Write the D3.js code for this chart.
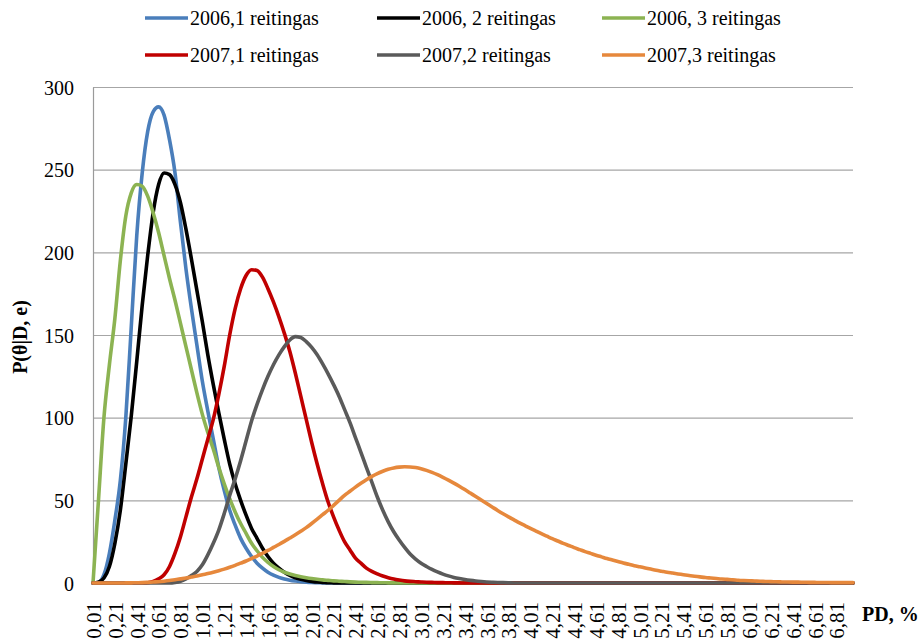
<!DOCTYPE html>
<html>
<head>
<meta charset="utf-8">
<script src="https://cdn.jsdelivr.net/npm/d3@7"></script>
<style>
  html, body { margin: 0; padding: 0; background: #fff; }
  svg { display: block; }
  text { font-family: "Liberation Serif", "Times New Roman", serif; fill: #000; }
</style>
</head>
<body>
<svg id="chart" width="924" height="640"></svg>
<script>
// ---------- DATA ----------
const pd = [
  0.01,0.06,0.11,0.16,0.21,0.26,0.31,0.36,0.41,0.46,
  0.51,0.56,0.61,0.66,0.71,0.76,0.81,0.86,0.91,0.96,
  1.01,1.06,1.11,1.16,1.21,1.26,1.31,1.36,1.41,1.46,
  1.51,1.56,1.61,1.66,1.71,1.76,1.81,1.86,1.91,1.96,
  2.01,2.06,2.11,2.16,2.21,2.26,2.31,2.36,2.41,2.46,
  2.51,2.56,2.61,2.66,2.71,2.76,2.81,2.86,2.91,2.96,
  3.01,3.06,3.11,3.16,3.21,3.26,3.31,3.36,3.41,3.46,
  3.51,3.56,3.61,3.66,3.71,3.76,3.81,3.86,3.91,3.96,
  4.01,4.06,4.11,4.16,4.21,4.26,4.31,4.36,4.41,4.46,
  4.51,4.56,4.61,4.66,4.71,4.76,4.81,4.86,4.91,4.96,
  5.01,5.06,5.11,5.16,5.21,5.26,5.31,5.36,5.41,5.46,
  5.51,5.56,5.61,5.66,5.71,5.76,5.81,5.86,5.91,5.96,
  6.01,6.06,6.11,6.16,6.21,6.26,6.31,6.36,6.41,6.46,
  6.51,6.56,6.61,6.66,6.71,6.76,6.81,6.86,6.91,6.96
];

const xTickLabels = ["0,01","0,21","0,41","0,61","0,81","1,01","1,21","1,41","1,61","1,81",
  "2,01","2,21","2,41","2,61","2,81","3,01","3,21","3,41","3,61","3,81",
  "4,01","4,21","4,41","4,61","4,81","5,01","5,21","5,41","5,61","5,81",
  "6,01","6,21","6,41","6,61","6,81"];
const yTicks = [0, 50, 100, 150, 200, 250, 300];

const seriesNames = ["2006,1 reitingas","2006, 2 reitingas","2006, 3 reitingas",
                     "2007,1 reitingas","2007,2 reitingas","2007,3 reitingas"];

const s2006_1 = [
  0,0.5,5,18,38,62,100,155,210,248,
  273,285,288,283,268,248,218,190,166,144,
  122,104,87,70,56,44,35,27,21,16,
  12,9,6.5,4.7,3.4,2.4,1.7,1.2,0.8,0.5,
  0.3,0.2,0.1,0,0,0,0,0,0,0,
  0,0,0,0,0,0,0,0,0,0,
  0,0,0,0,0,0,0,0,0,0,
  0,0,0,0,0,0,0,0,0,0,
  0,0,0,0,0,0,0,0,0,0,
  0,0,0,0,0,0,0,0,0,0,
  0,0,0,0,0,0,0,0,0,0,
  0,0,0,0,0,0,0,0,0,0,
  0,0,0,0,0,0,0,0,0,0,
  0,0,0,0,0,0,0,0,0,0
];
const s2006_2 = [
  0,0.5,3,10,24,44,72,101,134,168,
  198,224,241,248,247,241,230,214,196,177,
  158,138,120,103,87,72,60,50,41,33,
  27,21,16,12,9,6.5,4.6,3.2,2.2,1.5,
  1,0.6,0.4,0.2,0.1,0,0,0,0,0,
  0,0,0,0,0,0,0,0,0,0,
  0,0,0,0,0,0,0,0,0,0,
  0,0,0,0,0,0,0,0,0,0,
  0,0,0,0,0,0,0,0,0,0,
  0,0,0,0,0,0,0,0,0,0,
  0,0,0,0,0,0,0,0,0,0,
  0,0,0,0,0,0,0,0,0,0,
  0,0,0,0,0,0,0,0,0,0,
  0,0,0,0,0,0,0,0,0,0
];
const s2006_3 = [
  0,50,100,132,160,195,222,236,241,240,
  234,224,212,198,184,171,157,143,129,115,
  102,91,81,70,60,51,43,36,30,24,
  19.5,15.5,12.5,10,8,6.5,5.4,4.5,3.8,3.2,
  2.7,2.3,1.9,1.6,1.3,1.1,0.9,0.7,0.55,0.45,
  0.35,0.25,0.2,0.15,0.1,0.05,0,0,0,0,
  0,0,0,0,0,0,0,0,0,0,
  0,0,0,0,0,0,0,0,0,0,
  0,0,0,0,0,0,0,0,0,0,
  0,0,0,0,0,0,0,0,0,0,
  0,0,0,0,0,0,0,0,0,0,
  0,0,0,0,0,0,0,0,0,0,
  0,0,0,0,0,0,0,0,0,0,
  0,0,0,0,0,0,0,0,0,0
];
const s2007_1 = [
  0,0,0,0,0,0,0,0,0,0,
  0.2,1,2.5,5,10,18,28,40,52,63,
  75,87,99,114,131,150,166,178,186,189.5,
  189,185,178,170,161,151,140,127,113,99,
  85,72,60,49,40,32,25,20,15,12,
  9,7,5.5,4.2,3.2,2.4,1.8,1.3,1,0.8,
  0.6,0.45,0.35,0.25,0.2,0.15,0.1,0.05,0,0,
  0,0,0,0,0,0,0,0,0,0,
  0,0,0,0,0,0,0,0,0,0,
  0,0,0,0,0,0,0,0,0,0,
  0,0,0,0,0,0,0,0,0,0,
  0,0,0,0,0,0,0,0,0,0,
  0,0,0,0,0,0,0,0,0,0,
  0,0,0,0,0,0,0,0,0,0
];
const s2007_2 = [
  0,0,0,0,0,0,0,0,0,0,
  0,0,0,0,0,0.3,1,2.5,4.5,7,
  11,17,24,32,42,53,63,74,86,98,
  108,117,125,132,138,143,147,149,148.5,146,
  142.5,138,132.5,126.5,120,113,105,97,88,79,
  70,61,52,44,37,31,26,21.5,17.5,14.5,
  12,10,8.2,6.7,5.4,4.3,3.4,2.7,2.1,1.6,
  1.2,0.9,0.65,0.45,0.3,0.2,0.1,0,0,0,
  0,0,0,0,0,0,0,0,0,0,
  0,0,0,0,0,0,0,0,0,0,
  0,0,0,0,0,0,0,0,0,0,
  0,0,0,0,0,0,0,0,0,0,
  0,0,0,0,0,0,0,0,0,0,
  0,0,0,0,0,0,0,0,0,0
];
const s2007_3 = [
  0,0,0,0,0,0,0.05,0.1,0.15,0.25,
  0.4,0.6,0.8,1.1,1.5,2,2.5,3,3.6,4.2,
  5,5.7,6.5,7.4,8.4,9.5,10.7,12,13.3,14.8,
  16.3,18,19.7,21.5,23.3,25.2,27.2,29.2,31.3,33.5,
  36,38.6,41.3,44,47,50,53,55.5,58,60.3,
  62.5,64.5,66.2,67.6,68.8,69.6,70.1,70.3,70.2,69.8,
  69.1,68.1,66.9,65.5,63.9,62.2,60.4,58.5,56.5,54.4,
  52.3,50.2,48.1,46,43.9,41.9,40,38.2,36.4,34.7,
  33,31.4,29.8,28.3,26.8,25.4,24,22.7,21.4,20.2,
  19,17.9,16.8,15.8,14.8,13.9,13,12.1,11.3,10.5,
  9.8,9.1,8.4,7.7,7.1,6.5,6,5.5,5,4.5,
  4.1,3.7,3.3,3,2.7,2.4,2.2,2,1.7,1.5,
  1.35,1.2,1.05,0.95,0.85,0.75,0.65,0.6,0.55,0.5,
  0.45,0.4,0.35,0.3,0.3,0.25,0.25,0.2,0.2,0.2
];

const seriesValues = [s2006_1, s2006_2, s2006_3, s2007_1, s2007_2, s2007_3];
const seriesColors = ["#4a7ebb", "#000000", "#8cb352", "#c00000", "#5a5a5a", "#e6883c"];

// ---------- LAYOUT ----------
const svg = d3.select("#chart");
const plot = { left: 93, right: 853, top: 87, bottom: 583 };

const x = d3.scaleLinear().domain([pd[0], pd[pd.length - 1]]).range([plot.left, plot.right]);
const y = d3.scaleLinear().domain([0, 300]).range([plot.bottom, plot.top]);

// gridlines
svg.append("g")
  .selectAll("line")
  .data(yTicks.filter(d => d > 0))
  .join("line")
  .attr("x1", plot.left).attr("x2", plot.right)
  .attr("y1", d => y(d) + 0.5).attr("y2", d => y(d) + 0.5)
  .attr("stroke", "#a6a6a6").attr("stroke-width", 1.2);

// y axis
const yAxis = d3.axisLeft(y).tickValues(yTicks).tickSize(0).tickPadding(19).tickFormat(d3.format("d"));
const gy = svg.append("g").attr("transform", `translate(${plot.left},0)`).call(yAxis);
gy.select(".domain").attr("stroke", "#9a9a9a").attr("stroke-width", 1.2);
gy.selectAll("text").attr("font-size", 20).attr("font-family", "Liberation Serif").attr("dy", "0.35em");

// x axis
const xTickVals = xTickLabels.map(s => +s.replace(",", "."));
const xAxis = d3.axisBottom(x).tickValues(xTickVals).tickSize(0)
  .tickFormat((d, i) => xTickLabels[i]);
const gx = svg.append("g").attr("transform", `translate(0,${plot.bottom})`).call(xAxis);
gx.select(".domain").attr("stroke", "#9a9a9a").attr("stroke-width", 1.2);
gx.selectAll("text")
  .attr("font-size", 21).attr("font-family", "Liberation Serif")
  .attr("text-anchor", "end")
  .attr("transform", "rotate(-90)")
  .attr("x", -19).attr("y", 0).attr("dy", "0.35em");

// lines
const line = d3.line()
  .x((d, i) => x(pd[i]))
  .y(d => y(d))
  .curve(d3.curveMonotoneX);

svg.append("g")
  .selectAll("path")
  .data(seriesValues)
  .join("path")
  .attr("d", d => line(d))
  .attr("fill", "none")
  .attr("stroke", (d, i) => seriesColors[i])
  .attr("stroke-width", 3.6)
  .attr("stroke-linejoin", "round")
  .attr("stroke-linecap", "round");

// legend
const legendCols = [145, 377, 602];
const legendRows = [18, 55];
const lg = svg.append("g");
seriesNames.forEach((name, i) => {
  const cx = legendCols[i % 3], cy = legendRows[Math.floor(i / 3)];
  lg.append("line")
    .attr("x1", cx).attr("x2", cx + 43)
    .attr("y1", cy).attr("y2", cy)
    .attr("stroke", seriesColors[i]).attr("stroke-width", 3.6);
  lg.append("text")
    .attr("x", cx + 45).attr("y", cy)
    .attr("dy", "0.35em")
    .attr("font-size", 20)
    .text(name);
});

// axis titles
svg.append("text")
  .attr("transform", `translate(20,337) rotate(-90)`)
  .attr("text-anchor", "middle")
  .attr("dy", "0.35em")
  .attr("font-size", 20).attr("font-weight", "bold")
  .text("P(θ|D, e)");

svg.append("text")
  .attr("x", 862).attr("y", 614)
  .attr("dy", "0.35em")
  .attr("font-size", 20).attr("font-weight", "bold")
  .text("PD, %");
</script>
</body>
</html>
